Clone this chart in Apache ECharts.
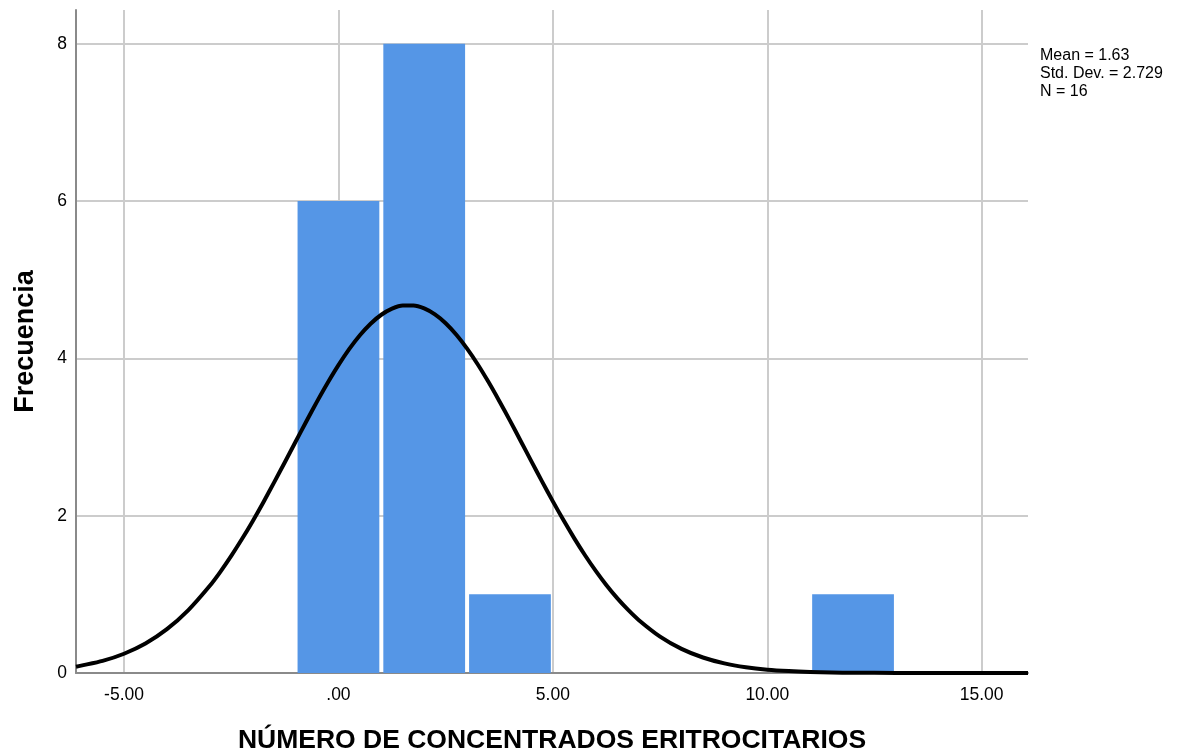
<!DOCTYPE html>
<html>
<head>
<meta charset="utf-8">
<script src="https://cdn.jsdelivr.net/npm/echarts@6/dist/echarts.min.js"></script>
<style>html,body{margin:0;padding:0;background:#fff}#c{width:1184px;height:753px}</style>
</head>
<body>
<div id="c"></div>
<script>
// Histogram bins: [start, end, frequency]
const binStarts = [-1, 1, 3, 11];
const binEnds = [1, 3, 5, 13];
const frequencies = [6, 8, 1, 1];
// Normal curve points
const curveX = [-6.12, -6, -5.5, -5, -4.5, -4, -3.5, -3, -2.75, -2.5, -2.25, -2, -1.75, -1.5, -1.25, -1, -0.75, -0.5, -0.25, 0, 0.25, 0.5, 0.75, 1, 1.25, 1.5, 1.75, 2, 2.25, 2.5, 2.75, 3, 3.25, 3.5, 3.75, 4, 4.25, 4.5, 4.75, 5, 5.25, 5.5, 5.75, 6, 6.25, 6.5, 6.75, 7, 7.5, 8, 8.5, 9, 9.5, 10, 10.5, 11, 11.5, 12, 13, 14, 15, 16.08];
const curveY = [0.08, 0.094, 0.154, 0.245, 0.375, 0.557, 0.80, 1.109, 1.290, 1.489, 1.703, 1.931, 2.172, 2.424, 2.680, 2.94, 3.198, 3.45, 3.690, 3.914, 4.117, 4.294, 4.441, 4.555, 4.633, 4.673, 4.673, 4.635, 4.559, 4.447, 4.300, 4.124, 3.923, 3.699, 3.459, 3.209, 2.950, 2.691, 2.433, 2.182, 1.941, 1.712, 1.497, 1.298, 1.116, 0.952, 0.805, 0.675, 0.463, 0.307, 0.197, 0.122, 0.073, 0.042, 0.024, 0.013, 0.007, 0.003, 0.001, 0, 0, 0];
const xTickValues = [-5, 0, 5, 10, 15];
const xTickLabels = ['-5.00', '.00', '5.00', '10.00', '15.00'];
const statsLines = ['Mean = 1.63', 'Std. Dev. = 2.729', 'N = 16'];

const barData = binStarts.map((s, i) => [s, binEnds[i], frequencies[i]]);
const curveData = curveX.map((x, i) => [x, curveY[i]]);

const chart = echarts.init(document.getElementById('c'));
chart.setOption({
  animation: false,
  backgroundColor: '#ffffff',
  textStyle: { fontFamily: 'Liberation Sans, Arial, sans-serif' },
  grid: { left: 76, right: 156, top: 10, bottom: 80, containLabel: false, outerBoundsMode: 'none' },
  xAxis: {
    type: 'value',
    min: -6.12,
    max: 16.08,
    name: 'NÚMERO DE CONCENTRADOS ERITROCITARIOS',
    nameLocation: 'middle',
    nameGap: 54,
    nameTextStyle: { fontSize: 26.5, fontWeight: 'bold', color: '#000', fontFamily: 'Liberation Sans, Arial, sans-serif' },
    axisLine: { show: true, onZero: false, lineStyle: { color: '#8a8a8a', width: 2 } },
    axisTick: { show: false, customValues: xTickValues },
    axisLabel: {
      customValues: xTickValues,
      margin: 13,
      fontSize: 17.5,
      color: '#000',
      formatter: v => { const i = xTickValues.indexOf(v); return i >= 0 ? xTickLabels[i] : ''; }
    },
    splitLine: { show: true, lineStyle: { color: '#cccccc', width: 2 } }
  },
  yAxis: {
    type: 'value',
    min: 0,
    max: 8.43,
    interval: 2,
    name: 'Frecuencia',
    nameLocation: 'middle',
    nameGap: 37,
    nameRotate: 90,
    nameTextStyle: { fontSize: 27, fontWeight: 'bold', color: '#000', fontFamily: 'Liberation Sans, Arial, sans-serif' },
    axisLine: { show: true, onZero: false, lineStyle: { color: '#8a8a8a', width: 2 } },
    axisTick: { show: false },
    axisLabel: { margin: 9, fontSize: 17.5, color: '#000', showMaxLabel: false },
    splitLine: { show: true, showMaxLine: false, lineStyle: { color: '#cccccc', width: 2 } }
  },
  graphic: [{
    type: 'text',
    left: 1040,
    top: 47,
    style: { text: statsLines.join('\n'), fontSize: 16, lineHeight: 18, fill: '#000', fontFamily: 'Liberation Sans, Arial, sans-serif' }
  }],
  series: [{
    type: 'custom',
    data: barData,
    encode: { x: [0, 1], y: 2 },
    z: 2,
    renderItem: (params, api) => {
      const p0 = api.coord([api.value(0), api.value(2)]);
      const p1 = api.coord([api.value(1), 0]);
      return {
        type: 'rect',
        shape: { x: p0[0] + 2, y: p0[1], width: p1[0] - p0[0] - 4, height: p1[1] - p0[1] },
        style: { fill: '#5596e6' }
      };
    }
  }, {
    type: 'line',
    data: curveData,
    smooth: 0.25,
    showSymbol: false,
    z: 3,
    lineStyle: { color: '#000', width: 4, join: 'round' },
    silent: true
  }]
});
</script>
</body>
</html>
